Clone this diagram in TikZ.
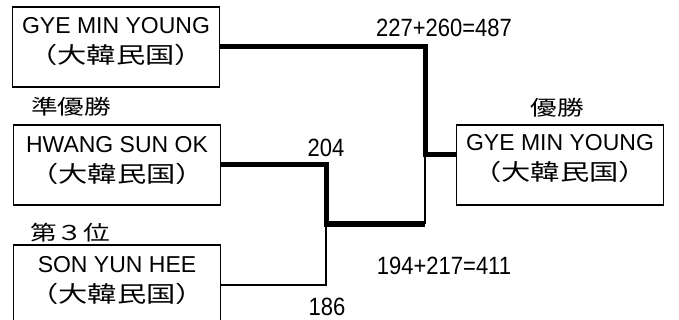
\documentclass[tikz,border=0pt]{standalone}
\usepackage{fontspec}
\setmainfont{Liberation Sans}
\newfontfamily\jpfont[FakeStretch=1.3]{Noto Sans CJK JP}
\newfontfamily\numfont[FakeStretch=0.88]{Liberation Sans}

\tikzset{
  player/.style={draw,line width=1.5pt,minimum width=207pt,minimum height=80pt,inner sep=0pt},
  pname/.style={align=center,font=\fontsize{23}{30}\selectfont,inner sep=0pt},
  rank/.style={font=\fontsize{20.5}{21}\selectfont\jpfont,inner sep=0pt},
  score/.style={font=\fontsize{25}{25}\selectfont\numfont,inner sep=0pt},
  win/.style={line width=5pt},
  lose/.style={line width=1.3pt}
}
\newcommand{\korea}{{\fontsize{22.5}{30}\selectfont\jpfont （大韓民国）}}

\begin{document}
\begin{tikzpicture}[x=1pt,y=-1pt]
\useasboundingbox (0,0) rectangle (679,320);
% players
\node[player] (p1) at (116,47) {};
\node[pname] (p1n) at ([yshift=5pt]p1.center) {GYE MIN YOUNG\\\korea};
\node[player] (p2) at (117,165) {};
\node[pname] (p2n) at ([yshift=4pt]p2.center) {HWANG SUN OK\\\korea};
\node[player] (p3) at (117,285) {};
\node[pname] (p3n) at ([yshift=4pt]p3.center) {SON YUN HEE\\\korea};
\node[player] (w) at (560,165) {};
\node[pname] (wn) at ([yshift=6pt]w.center) {GYE MIN YOUNG\\\korea};
\node[rank] (r2) at (71,107) {準優勝};
\node[rank] (r3) at (70,233) {第３位};
\node[rank] (r1) at (557,108) {優勝};
% bracket
\coordinate (f2) at (425,224);
\coordinate (f3) at (425,155);
\coordinate (s2) at (326,224);
\draw[win] (p1.east) -| (f3) -- (f3 -| w.west);
\draw[win] (p2.east) -| (s2) -- (f2);
\draw[lose] (f2) -- (f3);
\draw[lose] (p3.east) -| (s2);
% scores
\node[score] (sc1) at (444,28) {227+260=487};
\node[score] (sc2) at (326,148) {204};
\node[score] (sc3) at (444,266) {194+217=411};
\node[score] (sc4) at (327,307) {186};
\end{tikzpicture}
\end{document}
